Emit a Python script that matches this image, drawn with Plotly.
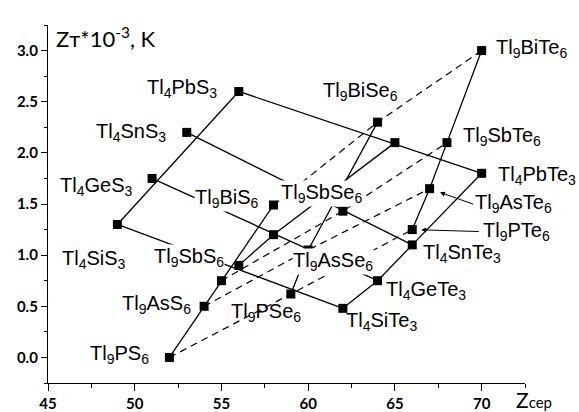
import plotly.graph_objects as go

# ---------------- data (Z_cep, Z_T*10^-3 K) ----------------
# Tl4AX3 compounds, order: Si, Ge, Sn, Pb
tl4_s3_z = [49, 51, 53, 56]
tl4_s3_t = [1.30, 1.75, 2.20, 2.60]
tl4_te3_z = [62, 64, 66, 70]
tl4_te3_t = [0.48, 0.75, 1.10, 1.80]

# Tl9BX6 compounds, order: P, As, Sb, Bi
tl9_s6_z = [52, 54, 55, 58]
tl9_s6_t = [0.00, 0.50, 0.75, 1.49]
tl9_se6_z = [59, 60, 62, 64]
tl9_se6_t = [0.62, 1.05, 1.43, 2.30]
tl9_te6_z = [66, 67, 68, 70]
tl9_te6_t = [1.25, 1.65, 2.10, 3.00]

# additional (unlabelled) points joined by a solid line
extra_z = [56, 58, 65]
extra_t = [0.90, 1.20, 2.10]

x_ticks = [45, 50, 55, 60, 65, 70]
y_ticks = [0.0, 0.5, 1.0, 1.5, 2.0, 2.5, 3.0]

# ---------------- figure ----------------
fig = go.Figure()
LW = 1.3
solid = dict(color="black", width=LW)
dashed = dict(color="black", width=1.2, dash="7px,5px")


def seg(xs, ys, line):
    fig.add_trace(go.Scatter(x=xs, y=ys, mode="lines", line=line,
                             hoverinfo="skip", showlegend=False))


# Tl4 sulfide edge (Si -> Pb) and telluride chain
seg([tl4_s3_z[0], tl4_s3_z[-1]], [tl4_s3_t[0], tl4_s3_t[-1]], solid)
seg(tl4_te3_z, tl4_te3_t, solid)
# Tl4 S3 -> Te3 for each A element
for i in range(4):
    seg([tl4_s3_z[i], tl4_te3_z[i]], [tl4_s3_t[i], tl4_te3_t[i]], solid)

# Tl9 chains
seg(tl9_s6_z, tl9_s6_t, solid)
seg(tl9_te6_z, tl9_te6_t, solid)
seg([tl9_se6_z[0], tl9_se6_z[1], tl9_se6_z[3]],
    [tl9_se6_t[0], tl9_se6_t[1], tl9_se6_t[3]], solid)
seg(extra_z, extra_t, solid)
# Tl9 S6 -> Se6 -> Te6 for each B element (dashed)
for i in range(4):
    seg([tl9_s6_z[i], tl9_se6_z[i], tl9_te6_z[i]],
        [tl9_s6_t[i], tl9_se6_t[i], tl9_te6_t[i]], dashed)

# markers
all_z = tl4_s3_z + tl4_te3_z + tl9_s6_z + tl9_se6_z + tl9_te6_z + extra_z
all_t = tl4_s3_t + tl4_te3_t + tl9_s6_t + tl9_se6_t + tl9_te6_t + extra_t
fig.add_trace(go.Scatter(x=all_z, y=all_t, mode="markers",
                         marker=dict(symbol="square", size=9, color="black",
                                     line=dict(width=0)),
                         hoverinfo="skip", showlegend=False))

# ---------------- labels ----------------
LF = dict(family="Liberation Sans, Arial, sans-serif", size=20, color="black")
labels = [
    ("Tl<sub>4</sub>PbS<sub>3</sub>", 54.81, 2.625, "right", False),
    ("Tl<sub>4</sub>SnS<sub>3</sub>", 51.85, 2.200, "right", False),
    ("Tl<sub>4</sub>GeS<sub>3</sub>", 49.93, 1.670, "right", False),
    ("Tl<sub>4</sub>SiS<sub>3</sub>", 49.55, 0.955, "right", False),
    ("Tl<sub>9</sub>SbS<sub>6</sub>", 55.21, 0.975, "right", True),
    ("Tl<sub>9</sub>AsS<sub>6</sub>", 53.29, 0.515, "right", False),
    ("Tl<sub>9</sub>PS<sub>6</sub>", 50.89, 0.025, "right", False),
    ("Tl<sub>9</sub>PSe<sub>6</sub>", 55.50, 0.435, "left", False),
    ("Tl<sub>4</sub>SiTe<sub>3</sub>", 62.13, 0.350, "left", False),
    ("Tl<sub>4</sub>GeTe<sub>3</sub>", 64.43, 0.655, "left", False),
    ("Tl<sub>4</sub>SnTe<sub>3</sub>", 66.54, 1.015, "left", False),
    ("Tl<sub>9</sub>PTe<sub>6</sub>", 70.00, 1.230, "left", False),
    ("Tl<sub>9</sub>AsTe<sub>6</sub>", 69.55, 1.505, "left", False),
    ("Tl<sub>4</sub>PbTe<sub>3</sub>", 70.90, 1.780, "left", False),
    ("Tl<sub>9</sub>SbTe<sub>6</sub>", 68.85, 2.160, "left", False),
    ("Tl<sub>9</sub>BiTe<sub>6</sub>", 70.77, 3.020, "left", False),
    ("Tl<sub>9</sub>BiSe<sub>6</sub>", 60.78, 2.600, "left", False),
    ("Tl<sub>9</sub>SbSe<sub>6</sub>", 58.38, 1.600, "left", True),
    ("Tl<sub>9</sub>AsSe<sub>6</sub>", 59.06, 0.935, "left", True),
    ("Tl<sub>9</sub>BiS<sub>6</sub>", 53.39, 1.555, "left", True),
]
ann = []
for text, x, y, anchor, bg in labels:
    ann.append(dict(text=text, x=x, y=y, xref="x", yref="y",
                    xanchor=anchor, yanchor="middle", showarrow=False,
                    font=LF, bgcolor="white" if bg else "rgba(0,0,0,0)",
                    borderpad=0))

# pointer arrows for Tl9AsTe6 and Tl9PTe6
ann.append(dict(text="", x=tl9_te6_z[1], y=tl9_te6_t[1], xref="x", yref="y",
                ax=45, ay=16, showarrow=True, arrowhead=2, arrowsize=1,
                arrowwidth=1, arrowcolor="black", standoff=11))
ann.append(dict(text="", x=tl9_te6_z[0], y=tl9_te6_t[0], xref="x", yref="y",
                ax=68, ay=2, showarrow=True, arrowhead=2, arrowsize=1,
                arrowwidth=1, arrowcolor="black", standoff=9))

# axis titles
ann.append(dict(text="Zт*10<sup>-3</sup>, K", x=0.012, y=0.965,
                xref="paper", yref="paper", xanchor="left", yanchor="middle",
                showarrow=False,
                font=dict(family="Lato, Liberation Sans, sans-serif", size=22,
                          color="black")))
ann.append(dict(text="Z<span style='font-size:15px'>сер</span>", x=0.976, y=-0.046,
                xref="paper", yref="paper", xanchor="left", yanchor="middle",
                showarrow=False,
                font=dict(family="Lato, Liberation Sans, sans-serif", size=21,
                          color="black")))

tickfont = dict(family="Lato, Liberation Sans, sans-serif", size=15,
                color="black", weight="bold")
fig.update_layout(
    width=579, height=412, autosize=False,
    margin=dict(l=48, r=54, t=25, b=29, pad=0),
    paper_bgcolor="white", plot_bgcolor="white",
    showlegend=False,
    annotations=ann,
    xaxis=dict(range=[45, 72.5], tickvals=x_ticks, showline=True,
               linecolor="black", linewidth=LW, ticks="outside", ticklen=7,
               tickwidth=LW, tickcolor="black", showgrid=False, zeroline=False,
               tickfont=tickfont, automargin=False,
               minor=dict(dtick=2.5, tick0=45, ticks="outside", ticklen=4,
                          tickwidth=LW, tickcolor="black", showgrid=False)),
    yaxis=dict(range=[-0.25, 3.25], tickvals=y_ticks, tickformat=".1f",
               showline=True, linecolor="black", linewidth=LW,
               ticks="outside", ticklen=6, tickwidth=LW, tickcolor="black",
               showgrid=False, zeroline=False, tickfont=tickfont,
               automargin=False,
               minor=dict(dtick=0.25, tick0=0, ticks="outside", ticklen=3,
                          tickwidth=LW, tickcolor="black", showgrid=False)),
)

fig.write_html("out.html", config={"displayModeBar": False},
               post_script="document.body.style.margin='0px';")
